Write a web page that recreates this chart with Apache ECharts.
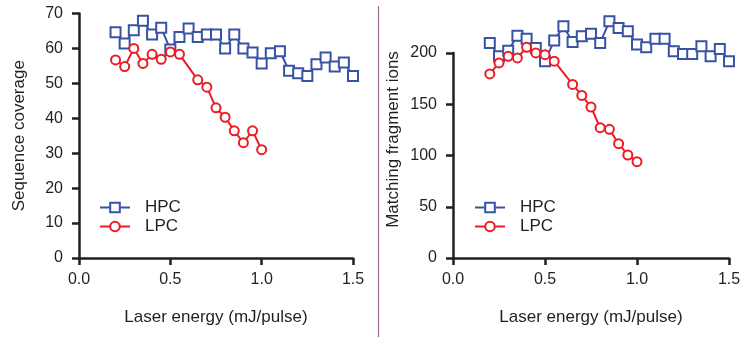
<!DOCTYPE html>
<html><head><meta charset="utf-8">
<script src="https://cdn.jsdelivr.net/npm/echarts@6/dist/echarts.min.js"></script>
<style>html,body{margin:0;padding:0;background:#fff}#c{width:754px;height:337px}</style>
</head><body><div id="c"></div>
<script>
const energyHPC = [0.20,0.25,0.30,0.35,0.40,0.45,0.50,0.55,0.60,0.65,0.70,0.75,0.80,0.85,0.90,0.95,1.00,1.05,1.10,1.15,1.20,1.25,1.30,1.35,1.40,1.45,1.50];
const energyLPC = [0.20,0.25,0.30,0.35,0.40,0.45,0.50,0.55,0.65,0.70,0.75,0.80,0.85,0.90,0.95,1.00];
const coverageHPC = [64.6,61.4,65.2,67.9,64.0,65.9,59.7,63.3,65.7,63.3,64.0,64.0,60.0,64.0,60.0,58.8,55.7,58.6,59.2,53.6,52.9,52.1,55.5,57.4,54.8,56.0,52.1];
const coverageLPC = [56.7,54.8,60.0,55.7,58.3,56.9,59.0,58.3,51.0,48.9,43.0,40.3,36.4,33.0,36.4,31.0];
const ionsHPC = [209.8,196.8,202.3,216.9,214.0,204.9,192.0,212.1,226.0,210.8,216.3,218.9,209.8,230.9,224.4,221.1,208.2,205.6,214.0,214.0,201.7,199.1,199.1,206.5,196.8,204.0,192.0];
const ionsLPC = [179.6,190.3,196.8,195.2,205.6,200.1,198.4,192.0,169.3,158.6,147.2,127.1,125.5,111.5,100.5,94.0];
const seriesNames = ['HPC','LPC'];
const xTitle = 'Laser energy (mJ/pulse)';
const yTitles = ['Sequence coverage','Matching fragment ions'];

const FONT = '"Liberation Sans",Arial,sans-serif';
const TXT = '#231f20';
const AX = '#231f20';
const BLUE = '#3953a4';
const RED = '#ed1c24';
const pair = (xs, ys) => xs.map((x,i)=>[x, ys[i]]);

function xAx(gi){
  return {gridIndex:gi, type:'value', min:0, max:1.5, interval:0.5,
    name:xTitle, nameLocation:'middle', nameGap:51,
    nameTextStyle:{fontFamily:FONT,fontSize:17,color:TXT},
    axisLine:{show:true,onZero:false,lineStyle:{color:AX,width:2.5}},
    axisTick:{show:true,inside:false,length:7,lineStyle:{color:AX,width:2.5}},
    axisLabel:{show:true,formatter:v=>v.toFixed(1),fontFamily:FONT,fontSize:16,color:TXT,margin:14},
    splitLine:{show:false}};
}
function yAx(gi,max,interval,pad){
  return {gridIndex:gi, type:'value', min:0, max:max, interval:interval,
    name:yTitles[gi], nameLocation:'middle', nameGap:51,
    nameTextStyle:{fontFamily:FONT,fontSize:17,color:TXT,padding:pad},
    axisLine:{show:true,onZero:false,lineStyle:{color:AX,width:2.5}},
    axisTick:{show:true,inside:false,length:7,lineStyle:{color:AX,width:2.5}},
    axisLabel:{show:true,fontFamily:FONT,fontSize:16,color:TXT,margin:16},
    splitLine:{show:false}};
}
function ser(name,gi,data,color,sym,size){
  return {name:name,type:'line',xAxisIndex:gi,yAxisIndex:gi,data:data,clip:false,
    symbol:sym,symbolSize:size,showAllSymbol:true,
    lineStyle:{color:color,width:2},
    itemStyle:{color:'#fff',borderColor:color,borderWidth:2},
    color:color, animation:false};
}
function leg(left,top){
  return {orient:'vertical',left:left,top:top,itemWidth:30,itemHeight:12,itemGap:2,
    data:seriesNames, selectedMode:false,
    textStyle:{fontFamily:FONT,fontSize:17,color:TXT,padding:[0,0,0,10]}};
}
const chart = echarts.init(document.getElementById('c'),null,{renderer:'canvas'});
chart.setOption({
  animation:false,
  grid:[{left:79,top:13.5,width:274,height:244.5},{left:453,top:53,width:276,height:205}],
  xAxis:[xAx(0),xAx(1)],
  yAxis:[yAx(0,70,10,[0,0,0,0]),yAx(1,200,50,[0,0,0,32])],
  legend:[leg(94,194),leg(469,194)],
  series:[
    ser(seriesNames[0],0,pair(energyHPC,coverageHPC),BLUE,'rect',10),
    ser(seriesNames[1],0,pair(energyLPC,coverageLPC),RED,'circle',9),
    ser(seriesNames[0],1,pair(energyHPC,ionsHPC),BLUE,'rect',10),
    ser(seriesNames[1],1,pair(energyLPC,ionsLPC),RED,'circle',9)
  ],
  graphic:[{type:'line',shape:{x1:378.5,y1:6,x2:378.5,y2:337},style:{stroke:'#9a6b94',lineWidth:1.2}}]
});
</script></body></html>
